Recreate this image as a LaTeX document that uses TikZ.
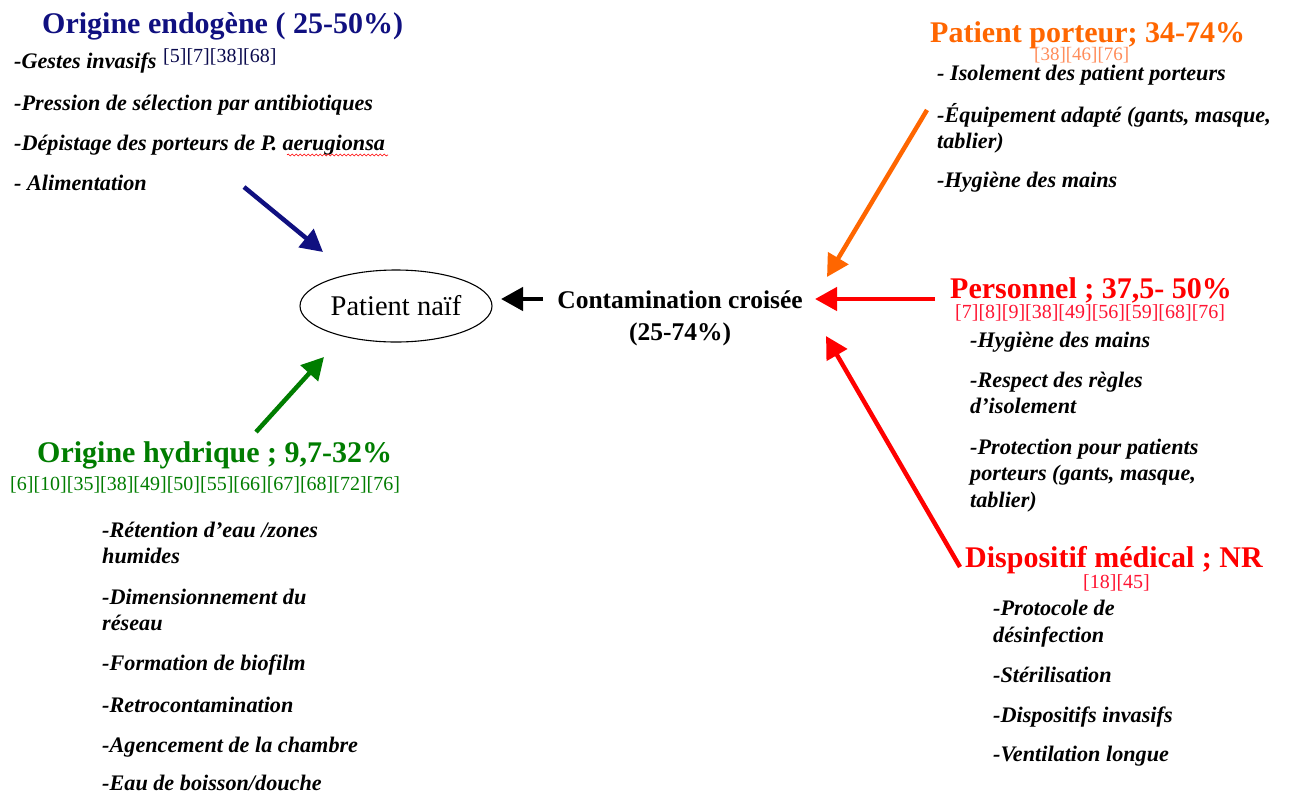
\documentclass[tikz,border=0pt]{standalone}
\usepackage{fontspec}
\setmainfont{Liberation Serif}
\usetikzlibrary{arrows.meta,decorations.pathmorphing,shapes.geometric}
\definecolor{navyc}{RGB}{16,16,128}
\definecolor{greenc}{RGB}{0,125,0}
\definecolor{orangec}{RGB}{255,102,0}
\definecolor{orangeref}{RGB}{255,140,90}
\definecolor{redc}{RGB}{255,0,0}
\definecolor{redref}{RGB}{255,20,50}
\tikzset{
  head/.style={anchor=base west, inner sep=0pt, font=\fontsize{30}{34}\selectfont\bfseries},
  refs/.style={anchor=base west, inner sep=0pt, font=\fontsize{20}{22}\selectfont},
  item/.style={anchor=base west, inner sep=0pt, font=\fontsize{22.2}{26}\selectfont\bfseries\itshape},
  arr/.style={line width=4.5pt, -{Triangle[length=22pt,width=23pt]}},
}
\begin{document}
\begin{tikzpicture}[x=1pt,y=1pt]
\useasboundingbox (0,0) rectangle (1290,-796);
\fill[white] (0,0) rectangle (1290,-796);

% ---- Origine endogene
\node[head, text=navyc] (endo) at (42,-33) {Origine endogène ( 25-50\%)};
\node[item] (e1) at (14,-68) {-Gestes invasifs};
\node[refs, text=navyc!60!black] (e1r) at (163,-62) {[5][7][38][68]};
\node[item] (e2) at (14,-110) {-Pression de sélection par antibiotiques};
\node[item] (e3) at (14,-150) {-Dépistage des porteurs de P. aerugionsa};
\node[item] (e4) at (14,-190) {- Alimentation};
\draw[redc, line width=0.6pt, decorate, decoration={snake, amplitude=1pt, segment length=4pt}] (287,-155) -- (388,-155);

% ---- Patient porteur
\node[head, text=orangec] (port) at (930,-42) {Patient porteur; 34-74\%};
\node[refs, text=orangeref, font=\fontsize{19}{21}\selectfont] (portr) at (1034,-60) {[38][46][76]};
\node[item] (p1) at (937,-80) {- Isolement des patient porteurs};
\node[item] (p2) at (937,-122) {-Équipement adapté (gants, masque,};
\node[item] (p2b) at (937,-148) {tablier)};
\node[item] (p3) at (937,-187) {-Hygiène des mains};

% ---- Centre
\node[draw, ellipse, line width=1.1pt, minimum width=192pt, minimum height=72pt, inner sep=0pt,
      font=\fontsize{28.5}{32}\selectfont] (naif) at (396,-306) {Patient naïf};
\node[anchor=base, inner sep=0pt, font=\fontsize{25.5}{29}\selectfont\bfseries] (cont) at (680,-308) {Contamination croisée};
\node[anchor=base, inner sep=0pt, font=\fontsize{25.5}{29}\selectfont\bfseries] (cont2) at (680,-340) {(25-74\%)};

% ---- Personnel
\node[head, text=redc] (pers) at (950,-298) {Personnel ; 37,5- 50\%};
\node[refs, text=redref] (persr) at (955,-318) {[7][8][9][38][49][56][59][68][76]};
\node[item] (s1) at (970,-347) {-Hygiène des mains};
\node[item] (s2) at (970,-387) {-Respect des règles};
\node[item] (s2b) at (970,-413) {d’isolement};
\node[item] (s3) at (970,-454) {-Protection pour patients};
\node[item] (s3b) at (970,-480) {porteurs (gants, masque,};
\node[item] (s3c) at (970,-507) {tablier)};

% ---- Origine hydrique
\node[head, text=greenc] (hyd) at (37,-462) {Origine hydrique ; 9,7-32\%};
\node[refs, text=greenc] (hydr) at (10,-490) {[6][10][35][38][49][50][55][66][67][68][72][76]};
\node[item] (h1) at (102,-537) {-Rétention d’eau /zones};
\node[item] (h1b) at (102,-563) {humides};
\node[item] (h2) at (102,-604) {-Dimensionnement du};
\node[item] (h2b) at (102,-630) {réseau};
\node[item] (h3) at (102,-670) {-Formation de biofilm};
\node[item] (h4) at (102,-712) {-Retrocontamination};
\node[item] (h5) at (102,-752) {-Agencement de la chambre};
\node[item] (h6) at (102,-790) {-Eau de boisson/douche};

% ---- Dispositif medical
\node[head, text=redc] (disp) at (965,-567) {Dispositif médical ; NR};
\node[refs, text=redref] (dispr) at (1083,-588) {[18][45]};
\node[item] (d1) at (993,-615) {-Protocole de};
\node[item] (d1b) at (993,-642) {désinfection};
\node[item] (d2) at (993,-682) {-Stérilisation};
\node[item] (d3) at (993,-722) {-Dispositifs invasifs};
\node[item] (d4) at (993,-761) {-Ventilation longue};

% ---- arrows
\coordinate (aNs) at (244,-187); \coordinate (aNe) at (323,-252);
\coordinate (aGs) at (256,-432); \coordinate (aGe) at (324,-357);
\coordinate (aKs) at (543,-299); \coordinate (aKe) at (501,-299);
\coordinate (aOs) at (927,-110); \coordinate (aOe) at (827,-277);
\coordinate (aRs) at (935,-299); \coordinate (aRe) at (815,-299);
\coordinate (aDs) at (960,-567); \coordinate (aDe) at (826,-336);
\draw[arr, navyc] (aNs) -- (aNe);
\draw[arr, greenc] (aGs) -- (aGe);
\draw[arr, black] (aKs) -- (aKe);
\draw[arr, orangec] (aOs) -- (aOe);
\draw[arr, redc] (aRs) -- (aRe);
\draw[arr, redc] (aDs) -- (aDe);
\end{tikzpicture}
\end{document}
